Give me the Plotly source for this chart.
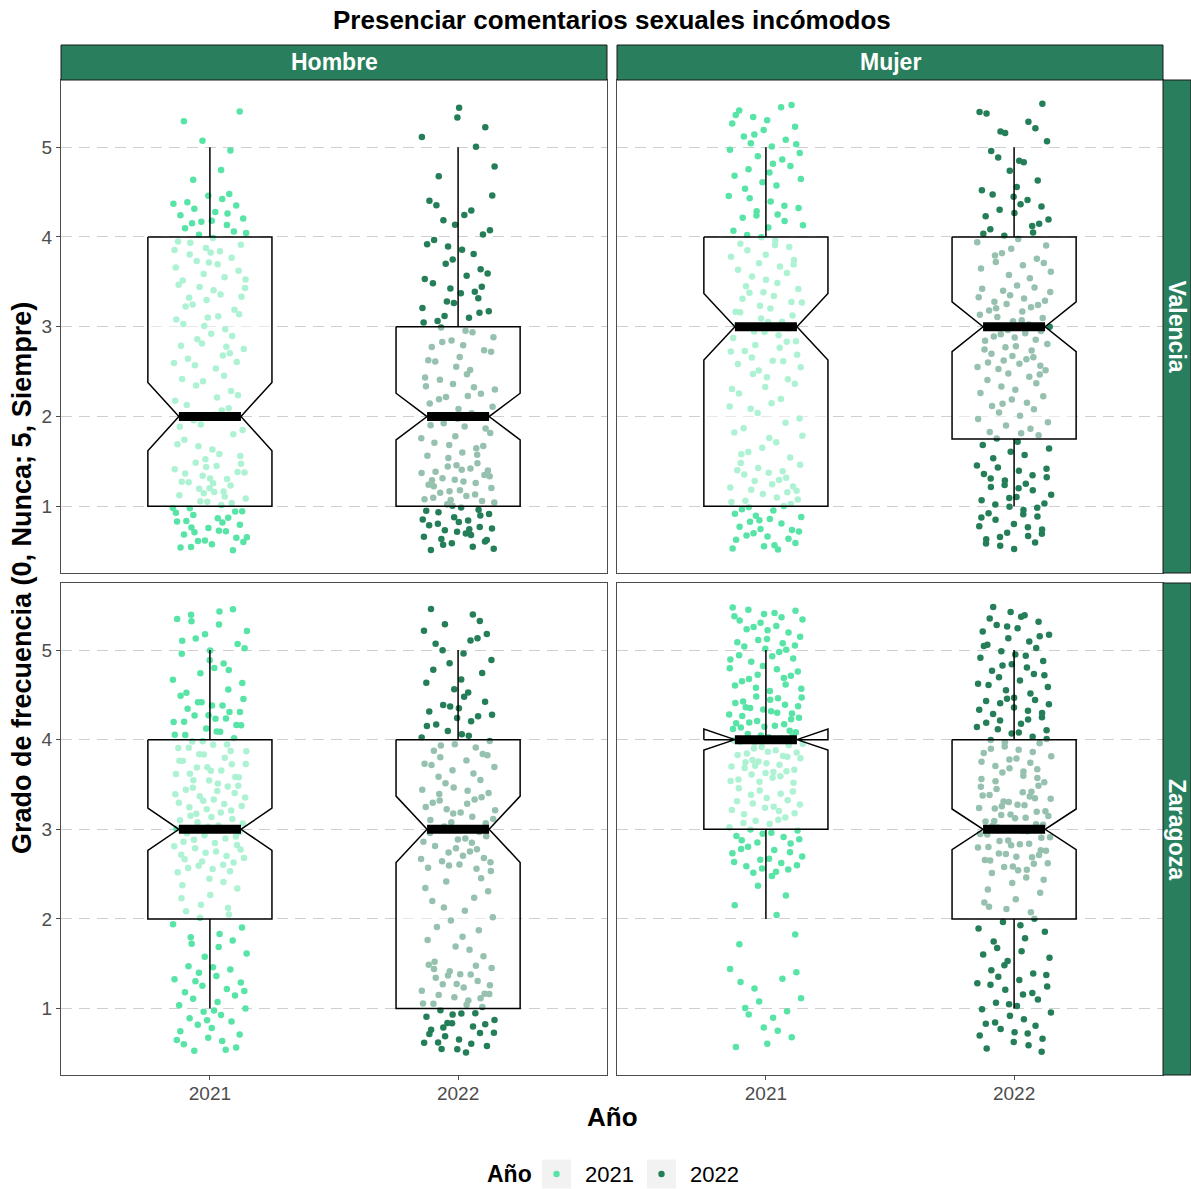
import numpy as np
import plotly.graph_objects as go

# ---------------------------------------------------------------------------
# Data: number of answers at each frequency level (1..5)
# ---------------------------------------------------------------------------
levels = [1, 2, 3, 4, 5]
years = ["2021", "2022"]
sexes = ["Hombre", "Mujer"]
cities = ["Valencia", "Zaragoza"]

valencia_hombre_2021 = [54, 25, 32, 38, 6]
valencia_hombre_2022 = [58, 33, 30, 20, 7]
valencia_mujer_2021 = [47, 23, 36, 30, 28]
valencia_mujer_2022 = [41, 30, 48, 29, 16]
zaragoza_hombre_2021 = [34, 20, 55, 49, 23]
zaragoza_hombre_2022 = [49, 18, 45, 33, 19]
zaragoza_mujer_2021 = [16, 7, 48, 67, 44]
zaragoza_mujer_2022 = [32, 22, 60, 46, 35]

counts = {
    ("Valencia", "Hombre", "2021"): valencia_hombre_2021,
    ("Valencia", "Hombre", "2022"): valencia_hombre_2022,
    ("Valencia", "Mujer", "2021"): valencia_mujer_2021,
    ("Valencia", "Mujer", "2022"): valencia_mujer_2022,
    ("Zaragoza", "Hombre", "2021"): zaragoza_hombre_2021,
    ("Zaragoza", "Hombre", "2022"): zaragoza_hombre_2022,
    ("Zaragoza", "Mujer", "2021"): zaragoza_mujer_2021,
    ("Zaragoza", "Mujer", "2022"): zaragoza_mujer_2022,
}

title_text = "Presenciar comentarios sexuales incómodos"
y_title = "Grado de frecuencia (0, Nunca; 5, Siempre)"
x_title = "Año"

# ---------------------------------------------------------------------------
# Styling
# ---------------------------------------------------------------------------
FONT = "Liberation Sans, Arial, sans-serif"
year_colors = {"2021": "#57E4A6", "2022": "#247E58"}
STRIP_FILL = "#297F5D"
BOX_FILL = "rgba(255,255,255,0.52)"
GRID = "#CFCFCF"
AXIS_LINE = "#4D4D4D"
TICK_TXT = "#4D4D4D"

W, H = 1191, 1189
col_px = [(61, 607), (617, 1163)]
row_px = [(80, 573), (583, 1075)]
Y_RANGE = [0.258, 5.748]
X_RANGE = [0.4, 2.6]

BOX_HALF = 0.25          # half box width (x units)
NOTCH_INDENT = 0.125     # notch indent from box side
JIT_W, JIT_H = 0.15, 0.49  # jitter half-extents


def px_x(p):
    return p / W


def px_y(p):
    return 1 - p / H


def halton(i, base):
    """Radical inverse of i in the given base (deterministic jitter offsets)."""
    f, r = 1.0, 0.0
    while i > 0:
        f /= base
        r += f * (i % base)
        i //= base
    return r


fig = go.Figure()
layout_axes = {}

for r, city in enumerate(cities):
    for c, sex in enumerate(sexes):
        k = r * 2 + c + 1
        xa = "x" if k == 1 else f"x{k}"
        ya = "y" if k == 1 else f"y{k}"

        stats = []
        # jittered answers
        for yi, year in enumerate(years):
            cnt = counts[(city, sex, year)]
            values = np.repeat(levels, cnt).astype(float)
            pos = yi + 1
            start = 11 + 97 * (2 * k + yi)
            u = np.array([halton(start + j, 2) for j in range(len(values))])
            v = np.array([halton(start + j, 3) for j in range(len(values))])
            xs = pos + (2 * u - 1) * JIT_W
            ys = values + (2 * v - 1) * JIT_H
            fig.add_trace(go.Scatter(
                x=xs, y=ys, mode="markers", xaxis=xa, yaxis=ya,
                marker=dict(size=6.5, color=year_colors[year], line=dict(width=0)),
                hoverinfo="skip", showlegend=False,
            ))
            stats.append((pos, values))

        # notched boxes drawn over the points
        for pos, values in stats:
            q1, med, q3 = np.percentile(values, [25, 50, 75])
            iqr = q3 - q1
            n = len(values)
            half_notch = 1.58 * iqr / np.sqrt(n)
            nlo, nhi = med - half_notch, med + half_notch
            lo = values[values >= q1 - 1.5 * iqr].min()
            hi = values[values <= q3 + 1.5 * iqr].max()
            x0, x1 = pos - BOX_HALF, pos + BOX_HALF

            # whiskers
            fig.add_trace(go.Scatter(
                x=[pos, pos, None, pos, pos], y=[q3, hi, None, q1, lo],
                mode="lines", xaxis=xa, yaxis=ya,
                line=dict(color="black", width=1.5),
                hoverinfo="skip", showlegend=False,
            ))
            bx = [x0, x0, x0 + NOTCH_INDENT, x0, x0, x1, x1, x1 - NOTCH_INDENT, x1, x1, x0]
            by = [q3, nhi, med, nlo, q1, q1, nlo, med, nhi, q3, q3]
            fig.add_trace(go.Scatter(
                x=bx, y=by, mode="lines", fill="toself", fillcolor=BOX_FILL,
                xaxis=xa, yaxis=ya, line=dict(color="black", width=1.5),
                hoverinfo="skip", showlegend=False,
            ))
            # median bar
            fig.add_trace(go.Scatter(
                x=[x0 + NOTCH_INDENT, x1 - NOTCH_INDENT], y=[med, med],
                mode="lines", xaxis=xa, yaxis=ya,
                line=dict(color="black", width=9),
                hoverinfo="skip", showlegend=False,
            ))

        xd = [px_x(col_px[c][0]), px_x(col_px[c][1])]
        yd = [px_y(row_px[r][1]), px_y(row_px[r][0])]
        bottom = r == 1
        left = c == 0
        xkey = "xaxis" if k == 1 else f"xaxis{k}"
        ykey = "yaxis" if k == 1 else f"yaxis{k}"
        layout_axes[xkey] = dict(
            domain=xd, anchor=ya, range=X_RANGE, tickmode="array",
            tickvals=[1, 2], ticktext=years, showticklabels=bottom,
            ticks="outside" if bottom else "", ticklen=4, tickcolor=AXIS_LINE,
            ticklabelstandoff=-3,
            tickfont=dict(family=FONT, size=19, color=TICK_TXT),
            showgrid=False, zeroline=False, showline=True, mirror=True,
            linecolor=AXIS_LINE, linewidth=1, fixedrange=True,
        )
        layout_axes[ykey] = dict(
            domain=yd, anchor=xa, range=Y_RANGE, tickmode="array",
            tickvals=levels, ticktext=[str(v) for v in levels],
            showticklabels=left, ticks="outside" if left else "", ticklen=4,
            tickcolor=AXIS_LINE,
            tickfont=dict(family=FONT, size=19, color=TICK_TXT),
            showgrid=True, gridcolor=GRID, gridwidth=1.3, griddash="11px,7px",
            zeroline=False, showline=True, mirror=True,
            linecolor=AXIS_LINE, linewidth=1, fixedrange=True,
        )

shapes = []
annotations = []

# facet strips: sex on top, city on the right
for c, sex in enumerate(sexes):
    x0, x1 = col_px[c]
    shapes.append(dict(type="rect", xref="paper", yref="paper",
                       x0=px_x(x0), x1=px_x(x1), y0=px_y(80), y1=px_y(45),
                       fillcolor=STRIP_FILL, line=dict(color="#1A1A1A", width=1)))
    annotations.append(dict(text=f"<b>{sex}</b>", xref="paper", yref="paper",
                            x=px_x((x0 + x1) / 2), y=px_y(62.5),
                            xanchor="center", yanchor="middle", showarrow=False,
                            font=dict(family=FONT, size=23, color="white")))
for r, city in enumerate(cities):
    y0, y1 = row_px[r]
    shapes.append(dict(type="rect", xref="paper", yref="paper",
                       x0=px_x(1163), x1=px_x(1191), y0=px_y(y1), y1=px_y(y0),
                       fillcolor=STRIP_FILL, line=dict(color="#1A1A1A", width=1)))
    annotations.append(dict(text=f"<b>{city}</b>", xref="paper", yref="paper",
                            x=px_x(1177), y=px_y((y0 + y1) / 2), textangle=90,
                            xanchor="center", yanchor="middle", showarrow=False,
                            font=dict(family=FONT, size=23, color="white")))

# titles
annotations.append(dict(text=f"<b>{title_text}</b>", xref="paper", yref="paper",
                        x=px_x(612), y=px_y(20), xanchor="center", yanchor="middle",
                        showarrow=False, font=dict(family=FONT, size=26, color="black")))
annotations.append(dict(text=f"<b>{x_title}</b>", xref="paper", yref="paper",
                        x=px_x(612), y=px_y(1117), xanchor="center", yanchor="middle",
                        showarrow=False, font=dict(family=FONT, size=26, color="black")))
annotations.append(dict(text=f"<b>{y_title}</b>", xref="paper", yref="paper",
                        x=px_x(22), y=px_y(578), textangle=-90,
                        xanchor="center", yanchor="middle",
                        showarrow=False, font=dict(family=FONT, size=27, color="black")))

# legend row
LEG_Y = 1174
annotations.append(dict(text=f"<b>{x_title}</b>", xref="paper", yref="paper",
                        x=px_x(485), y=px_y(LEG_Y), xanchor="left", yanchor="middle",
                        showarrow=False, font=dict(family=FONT, size=23, color="black")))
key_left = [542, 647]
for i, year in enumerate(years):
    kx = key_left[i]
    shapes.append(dict(type="rect", xref="paper", yref="paper",
                       x0=px_x(kx), x1=px_x(kx + 29), y0=px_y(LEG_Y + 14.5),
                       y1=px_y(LEG_Y - 14.5), fillcolor="#F2F2F2", line=dict(width=0)))
    cx = kx + 14.5
    shapes.append(dict(type="circle", xref="paper", yref="paper",
                       x0=px_x(cx - 3.2), x1=px_x(cx + 3.2),
                       y0=px_y(LEG_Y + 3.2), y1=px_y(LEG_Y - 3.2),
                       fillcolor=year_colors[year], line=dict(width=0)))
    annotations.append(dict(text=year, xref="paper", yref="paper",
                            x=px_x(kx + 41), y=px_y(LEG_Y), xanchor="left",
                            yanchor="middle", showarrow=False,
                            font=dict(family=FONT, size=22, color="black")))

fig.update_layout(
    width=W, height=H, margin=dict(l=0, r=0, t=0, b=0),
    paper_bgcolor="white", plot_bgcolor="white",
    showlegend=False, shapes=shapes, annotations=annotations,
    **layout_axes,
)

fig.write_html("out.html", config={"displayModeBar": False})
